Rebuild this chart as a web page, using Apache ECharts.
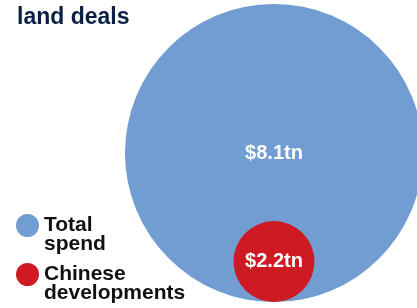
<!DOCTYPE html>
<html>
<head>
<meta charset="utf-8">
<script src="https://cdn.jsdelivr.net/npm/echarts@6/dist/echarts.min.js"></script>
<style>
  html, body { margin: 0; padding: 0; background: #fff; }
  #chart { width: 417px; height: 308px; }
</style>
</head>
<body>
<div id="chart"></div>
<script>
// values in trillions of dollars, circle radius proportional to value
const names = ['Total spend', 'Chinese developments']
const values = [8.1, 2.2]
const labels = ['$8.1tn', '$2.2tn']
const colors = ['#729dd2', '#cd1a23']

const font = '"Liberation Sans", Arial, Helvetica, sans-serif'

// circles sit on the y=0 baseline, centre at y=value, radius = value
function renderCircle(idx) {
  return function (params, api) {
    const c = api.coord([0.5, api.value(1)])
    const r = api.size([0, api.value(1)])[1]
    return {
      type: 'group',
      children: [
        { type: 'circle', shape: { cx: c[0], cy: c[1], r: r }, style: { fill: colors[idx] } },
        {
          type: 'text',
          x: c[0], y: c[1],
          style: {
            text: labels[idx], fill: '#fff', align: 'center', verticalAlign: 'middle',
            font: 'bold 20px ' + font
          }
        }
      ]
    }
  }
}

const chart = echarts.init(document.getElementById('chart'))
chart.setOption({
  animation: false,
  title: {
    text: 'land deals',
    left: 12, top: 1,
    textStyle: { fontFamily: font, fontWeight: 'bold', fontSize: 23, color: '#0b1f45' }
  },
  legend: {
    orient: 'vertical',
    left: 16, top: 196,
    padding: 0,
    itemWidth: 23, itemHeight: 23,
    itemGap: -10,
    icon: 'circle',
    // blank first line keeps the dot level with the first text line
    formatter: (name) => ' \n' + name.replace(' ', '\n'),
    textStyle: { fontFamily: font, fontWeight: 'bold', fontSize: 21, lineHeight: 19, color: '#111' },
    data: names
  },
  grid: { left: 131, right: 0, top: 4, bottom: 6 },
  xAxis: { type: 'value', min: 0, max: 1, show: false },
  yAxis: { type: 'value', min: 0, max: values[0] * 2, show: false },
  series: names.map((n, i) => ({
    name: n,
    type: 'custom',
    color: colors[i],
    renderItem: renderCircle(i),
    data: [[0.5, values[i]]]
  }))
})
</script>
</body>
</html>
